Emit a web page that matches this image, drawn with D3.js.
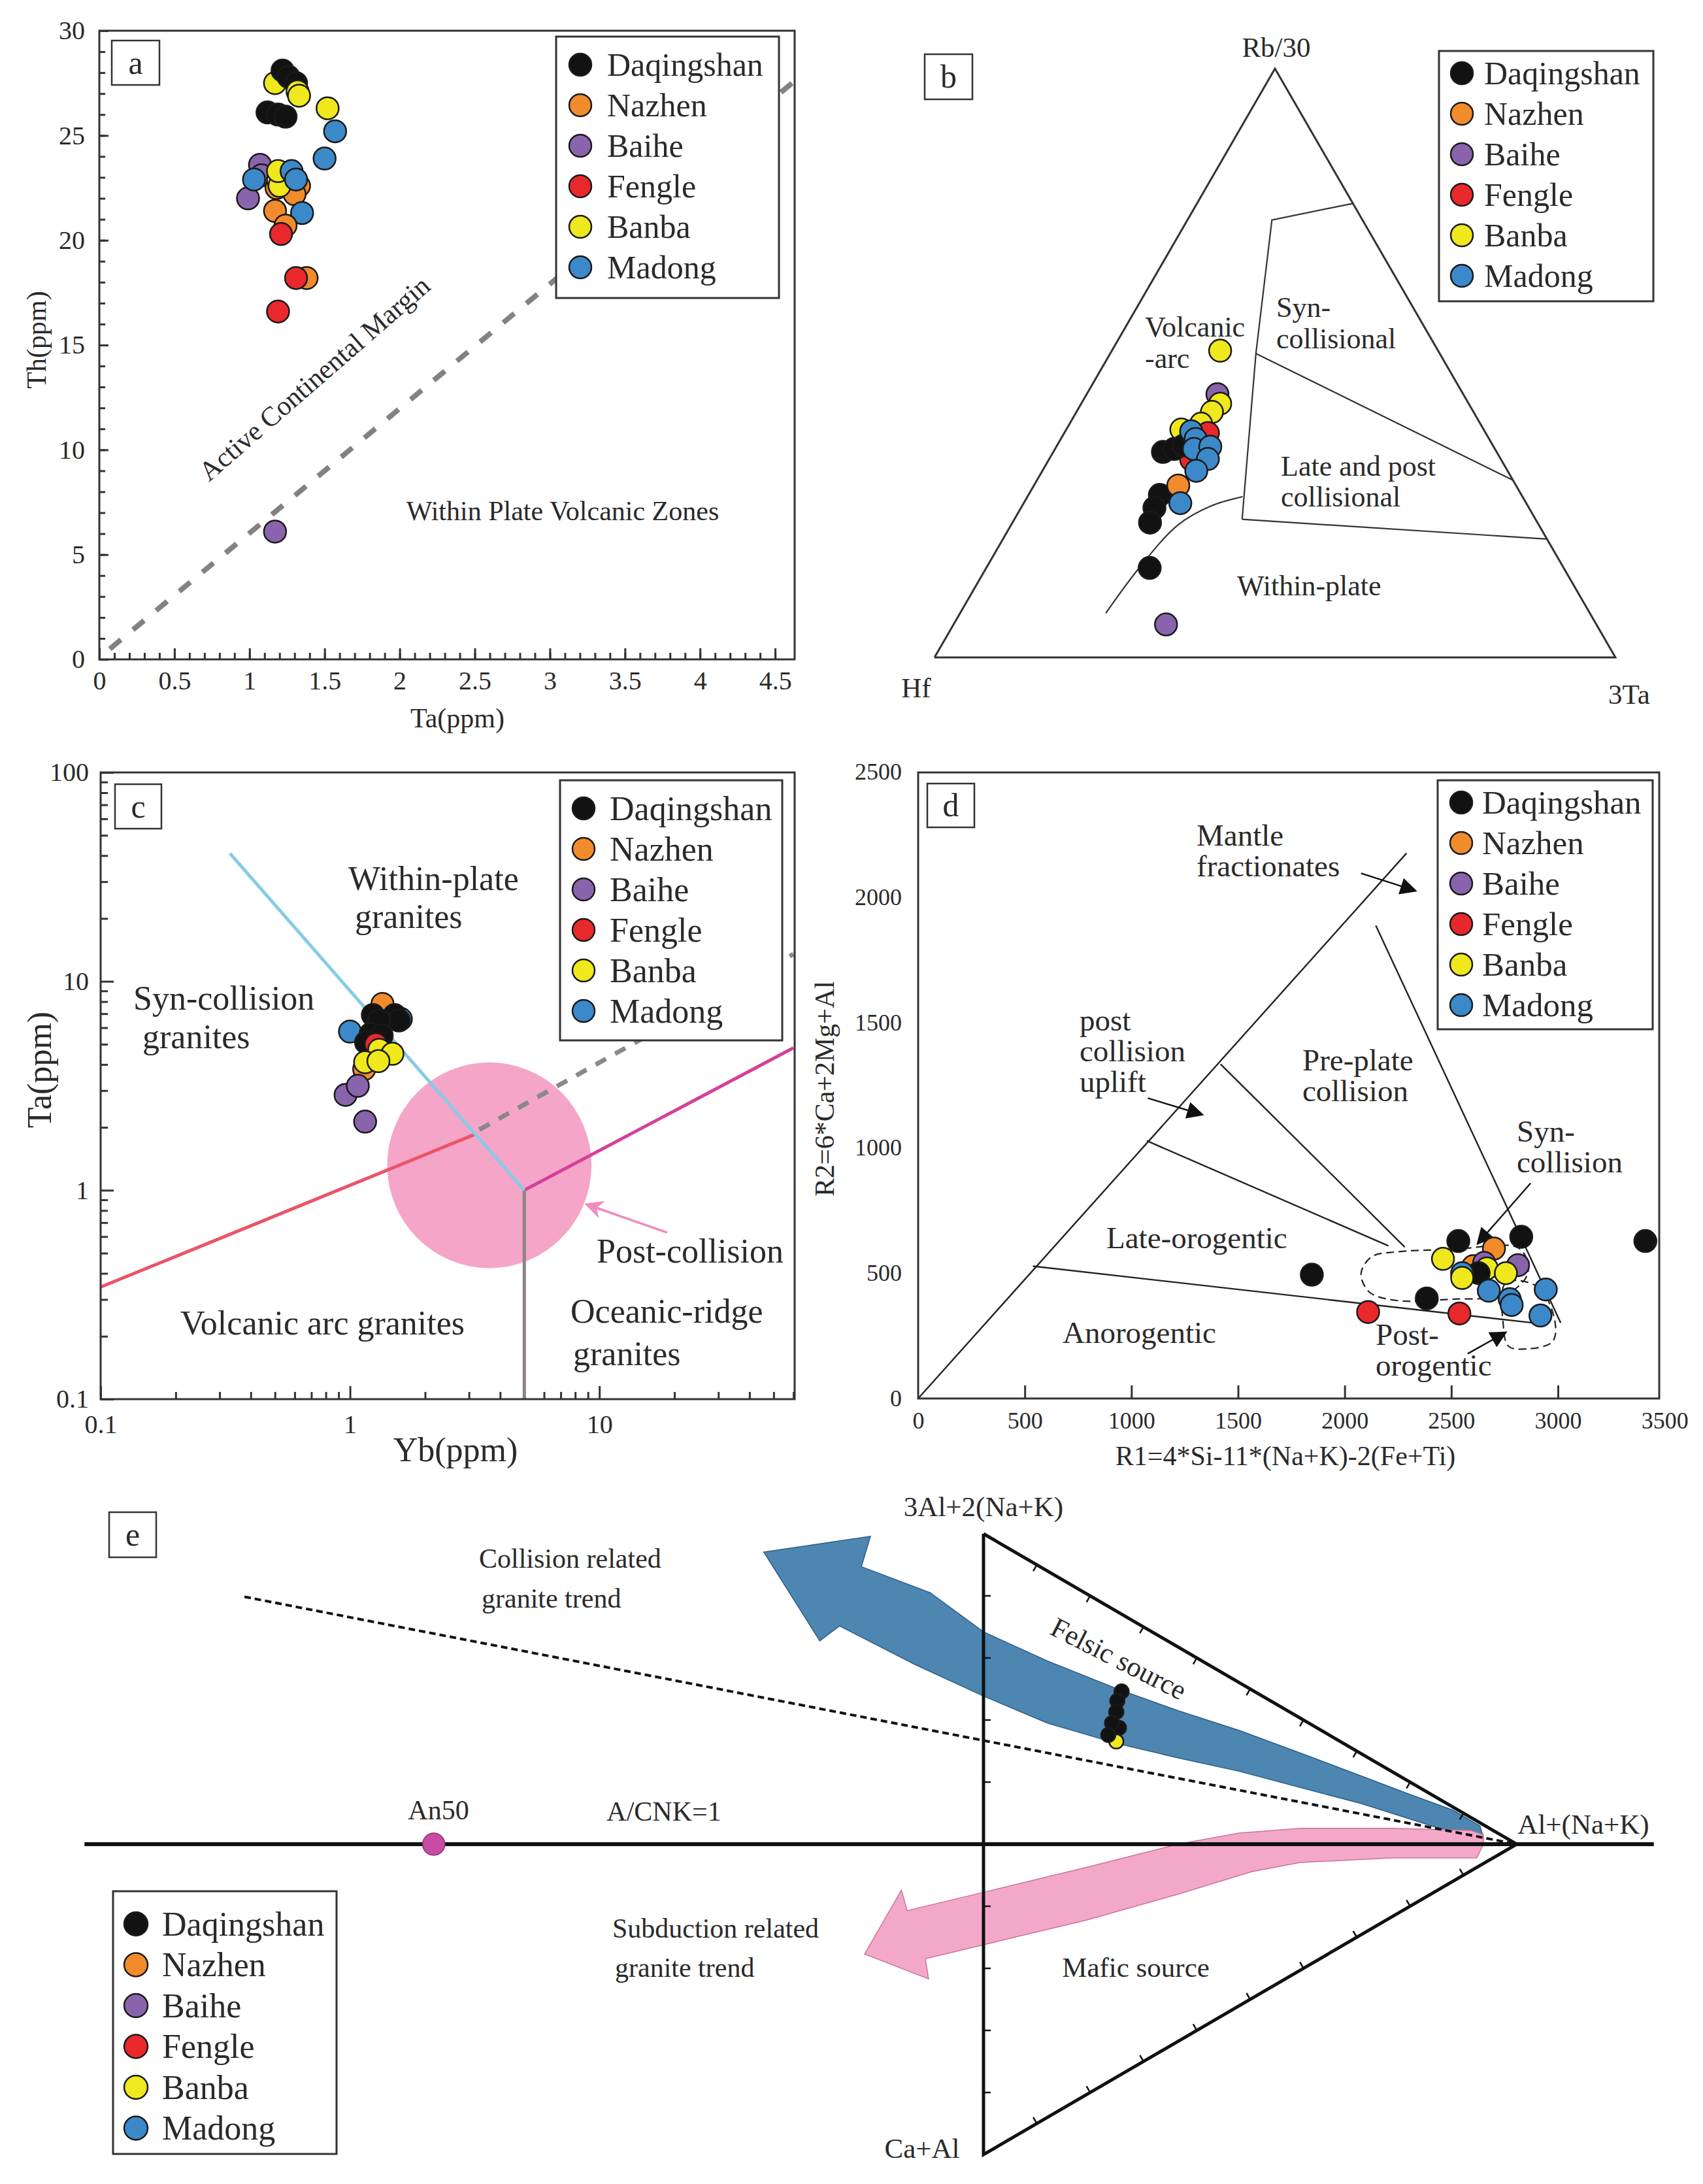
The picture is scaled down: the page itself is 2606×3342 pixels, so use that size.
<!DOCTYPE html>
<html>
<head>
<meta charset="utf-8">
<script src="https://cdn.jsdelivr.net/npm/d3@7"></script>
<style>
body { margin: 0; background: #fff; }
svg text { font-family: "Liberation Serif", "Times New Roman", serif; fill: #2a2a2a; }
</style>
</head>
<body>
<div id="chart"></div>
<script>
// sample groups and colours
var groups = ["Daqingshan", "Nazhen", "Baihe", "Fengle", "Banba", "Madong"];
var groupColors = ["#121212", "#f28b2c", "#8a63ad", "#e8282b", "#efe81c", "#3b89c9"];

// (a) Ta vs Th (ppm)
var taTh = [
  ["Banba", 1.17, 27.5], ["Daqingshan", 1.22, 28.1], ["Daqingshan", 1.26, 27.8], ["Daqingshan", 1.31, 27.5],
  ["Banba", 1.32, 27.1], ["Banba", 1.33, 26.9], ["Daqingshan", 1.12, 26.1], ["Daqingshan", 1.19, 26.0],
  ["Daqingshan", 1.24, 25.9], ["Banba", 1.52, 26.3], ["Madong", 1.57, 25.2], ["Madong", 1.50, 23.9],
  ["Baihe", 1.07, 23.6], ["Baihe", 1.08, 23.1], ["Baihe", 0.99, 22.0], ["Nazhen", 1.18, 22.5],
  ["Nazhen", 1.33, 22.6], ["Nazhen", 1.30, 22.2], ["Banba", 1.19, 22.9], ["Banba", 1.20, 22.6],
  ["Banba", 1.19, 23.3], ["Madong", 1.03, 22.9], ["Madong", 1.28, 23.3], ["Madong", 1.31, 22.9],
  ["Nazhen", 1.17, 21.4], ["Madong", 1.35, 21.3], ["Nazhen", 1.24, 20.7], ["Fengle", 1.21, 20.3],
  ["Nazhen", 1.38, 18.2], ["Fengle", 1.31, 18.2], ["Fengle", 1.19, 16.6], ["Baihe", 1.17, 6.1]
];
var acmLine = [[0.07, 0.5], [4.63, 27.6]];

// (b) Hf - Rb/30 - 3Ta, fractions [Hf, Rb/30, 3Ta]
var hfRbTa = [
  ["Baihe", 0.361, 0.447, 0.192], ["Baihe", 0.632, 0.056, 0.312], ["Banba", 0.320, 0.521, 0.159],
  ["Banba", 0.365, 0.431, 0.204], ["Banba", 0.384, 0.417, 0.199], ["Banba", 0.410, 0.397, 0.193],
  ["Banba", 0.444, 0.387, 0.169], ["Fengle", 0.408, 0.381, 0.211], ["Fengle", 0.455, 0.336, 0.209],
  ["Daqingshan", 0.490, 0.349, 0.161], ["Daqingshan", 0.471, 0.354, 0.175], ["Daqingshan", 0.454, 0.360, 0.186],
  ["Madong", 0.431, 0.384, 0.185], ["Madong", 0.431, 0.371, 0.198], ["Madong", 0.442, 0.354, 0.204],
  ["Madong", 0.416, 0.358, 0.226], ["Madong", 0.430, 0.337, 0.233], ["Madong", 0.457, 0.317, 0.226],
  ["Daqingshan", 0.531, 0.276, 0.193], ["Daqingshan", 0.550, 0.254, 0.196], ["Daqingshan", 0.569, 0.229, 0.202],
  ["Daqingshan", 0.608, 0.152, 0.240], ["Nazhen", 0.496, 0.292, 0.212], ["Madong", 0.508, 0.262, 0.230]
];
var synColTop = [[0, 0.771, 0.229], [0.133, 0.743, 0.124], [0.270, 0.516, 0.214], [0.431, 0.2345, 0.3345]];
var synColLower = [[0.270, 0.516, 0.214], [0, 0.301, 0.699]];
var lateColLower = [[0.431, 0.2345, 0.3345], [0, 0.201, 0.799]];
var withinPlateCurve = [[0.711, 0.075, 0.214], [0.623, 0.153, 0.225], [0.530, 0.225, 0.245], [0.466, 0.257, 0.277], [0.411, 0.273, 0.316]];

// (c) Yb vs Ta (ppm)
var ybTa = [
  ["Nazhen", 1.35, 7.8], ["Madong", 1.60, 6.6], ["Daqingshan", 1.235, 6.9], ["Daqingshan", 1.51, 6.9],
  ["Daqingshan", 1.57, 6.5], ["Daqingshan", 1.31, 6.5], ["Madong", 1.00, 5.75], ["Daqingshan", 1.21, 5.6],
  ["Daqingshan", 1.34, 5.5], ["Daqingshan", 1.16, 5.1], ["Fengle", 1.27, 5.0], ["Nazhen", 1.14, 3.8],
  ["Banba", 1.31, 4.7], ["Banba", 1.48, 4.5], ["Banba", 1.15, 4.1], ["Banba", 1.30, 4.15],
  ["Baihe", 0.96, 2.86], ["Baihe", 1.075, 3.16], ["Baihe", 1.15, 2.13]
];
var vagLine = [[0.1, 0.344], [3.2, 1.86]];
var wpgLine = [[0.33, 41], [5, 1]];
var colgDashed = [[3.3, 1.95], [60, 13.5]];
var orgLine = [[5, 1], [60, 4.8]];
var orgVertical = [[5, 1], [5, 0.1]];
var postColYb = [1.41, 9.3];
var postColTa = [0.424, 4.09];
var postColArrow = [[18.7, 0.627], [8.86, 0.857]];

// (d) R1 - R2
var r1r2 = [
  ["Daqingshan", 1846, 494], ["Fengle", 2110, 345], ["Daqingshan", 2385, 399], ["Fengle", 2538, 339],
  ["Daqingshan", 2533, 628], ["Banba", 2461, 557], ["Nazhen", 2700, 598], ["Nazhen", 2603, 528],
  ["Baihe", 2813, 532], ["Baihe", 2654, 541], ["Banba", 2667, 519], ["Daqingshan", 2628, 500],
  ["Banba", 2756, 500], ["Madong", 2551, 500], ["Banba", 2551, 481], ["Daqingshan", 2828, 645],
  ["Madong", 2676, 430], ["Madong", 2774, 396], ["Madong", 2783, 373], ["Madong", 2943, 435],
  ["Madong", 2918, 331], ["Daqingshan", 3410, 628]
];
var dDiagonal = [[0, 0], [2290, 2175]];
var dLower = [[538, 528], [2900, 300]];
var dMid = [[1072, 1028], [2205, 609]];
var dUpper = [[1418, 1334], [2282, 604]];
var dRight = [[2146, 1887], [3013, 302]];
var synColField = [[2244, 585], [2500, 594], [2820, 598], [2859, 500], [2756, 415], [2500, 396], [2244, 391], [2115, 425], [2077, 500], [2128, 566]];
var postOroField = [[2756, 462], [2910, 443], [2987, 302], [2974, 226], [2859, 198], [2769, 208], [2744, 292]];
var dArrows = [
  [[2077, 2095], [2333, 2025]],
  [[1077, 1198], [1333, 1132]],
  [[2872, 859], [2623, 617]],
  [[2577, 179], [2756, 264]]
];

// (e) schematic, u along A/CNK=1 line (0 = Ca+Al side, 1 = Al+(Na+K)), v up/down
var acnkLine = [[-1.686, 0], [1.257, 0]];
var collisionTrend = [[-1.386, 0.797], [1, 0]];
var an50 = [[-1.031, 0]];
var felsicArrow = [[-0.412, 0.941], [-0.212, 0.992], [-0.229, 0.894], [-0.1, 0.81], [0, 0.684], [0.12, 0.59],
  [0.251, 0.5], [0.365, 0.43], [0.479, 0.367], [0.6, 0.29], [0.708, 0.22], [0.80, 0.16], [0.88, 0.11],
  [0.931, 0.059], [0.9375, 0.021], [0.92, 0.015], [0.82, 0.07], [0.708, 0.131], [0.6, 0.18], [0.479, 0.235],
  [0.365, 0.278], [0.251, 0.324], [0.12, 0.39], [0, 0.477], [-0.13, 0.58], [-0.27, 0.703], [-0.307, 0.655]];
var maficArrow = [[-0.223, -0.354], [-0.154, -0.148], [-0.143, -0.214], [0, -0.155], [0.194, -0.074],
  [0.365, 0], [0.479, 0.036], [0.594, 0.051], [0.766, 0.051], [0.914, 0.044], [0.9375, 0.03], [0.9375, 0],
  [0.925, -0.044], [0.766, -0.044], [0.594, -0.059], [0.502, -0.089], [0.365, -0.161], [0.194, -0.244],
  [0, -0.324], [-0.109, -0.369], [-0.103, -0.434]];
var eSamples = [
  ["Daqingshan", 0.259, 0.492], ["Daqingshan", 0.251, 0.462], ["Daqingshan", 0.249, 0.426],
  ["Daqingshan", 0.254, 0.375], ["Daqingshan", 0.241, 0.39], ["Banba", 0.249, 0.331], ["Daqingshan", 0.234, 0.352]
];

var colorOf = d3.scaleOrdinal().domain(groups).range(groupColors);

var svg = d3.select("#chart").append("svg")
  .attr("width", 2606)
  .attr("height", 3342)
  .style("background", "#fff");

function frame(x0, y0, x1, y1) {
  svg.append("rect").attr("x", x0).attr("y", y0).attr("width", x1 - x0).attr("height", y1 - y0)
    .attr("fill", "none").attr("stroke", "#333").attr("stroke-width", 3);
}

function letterBox(x, y, w, h, t) {
  svg.append("rect").attr("x", x).attr("y", y).attr("width", w).attr("height", h)
    .attr("fill", "#fff").attr("stroke", "#333").attr("stroke-width", 2.5);
  svg.append("text").attr("x", x + w / 2).attr("y", y + h / 2).attr("dy", "0.33em")
    .attr("text-anchor", "middle").attr("font-size", 50).text(t);
}

function legend(x, y, w, h, rowY, step, cx, tx, fs, r) {
  svg.append("rect").attr("x", x).attr("y", y).attr("width", w).attr("height", h)
    .attr("fill", "#fff").attr("stroke", "#333").attr("stroke-width", 3);
  groups.forEach(function(gname, i) {
    svg.append("circle").attr("cx", cx).attr("cy", rowY + i * step).attr("r", r)
      .attr("fill", colorOf(gname)).attr("stroke", "#1a1a1a").attr("stroke-width", 2.5);
    svg.append("text").attr("x", tx).attr("y", rowY + i * step).attr("dy", "0.34em")
      .attr("font-size", fs).text(gname);
  });
}

function text(x, y, t, fs, anchor, rot) {
  var el = svg.append("text").attr("x", x).attr("y", y).attr("dy", "0.34em")
    .attr("font-size", fs).attr("text-anchor", anchor || "start").text(t);
  if (rot) el.attr("transform", "rotate(" + rot + "," + x + "," + y + ")");
  return el;
}

function styleAxis(g, fs) {
  g.select(".domain").remove();
  g.selectAll(".tick line").attr("stroke", "#333").attr("stroke-width", 3);
  g.selectAll(".tick text").attr("font-size", fs).attr("fill", "#2a2a2a")
    .attr("font-family", "'Liberation Serif','Times New Roman',serif");
}

function dots(data, px, py, r) {
  svg.append("g").selectAll("circle").data(data).join("circle")
    .attr("cx", px).attr("cy", py).attr("r", r)
    .attr("fill", function(d) { return colorOf(d[0]); })
    .attr("stroke", "#1a1a1a").attr("stroke-width", 2.5);
}

var defs = svg.append("defs");
function clip(id, x0, y0, x1, y1) {
  defs.append("clipPath").attr("id", id).append("rect")
    .attr("x", x0).attr("y", y0).attr("width", x1 - x0).attr("height", y1 - y0);
}
defs.append("marker").attr("id", "arrowBlack").attr("viewBox", "0 0 10 10")
  .attr("refX", 9).attr("refY", 5).attr("markerWidth", 9).attr("markerHeight", 7)
  .attr("markerUnits", "userSpaceOnUse").attr("orient", "auto")
  .attr("markerWidth", 34).attr("markerHeight", 26)
  .append("path").attr("d", "M0,0L10,5L0,10Z").attr("fill", "#111");
defs.append("marker").attr("id", "arrowPink").attr("viewBox", "0 0 10 10")
  .attr("refX", 9).attr("refY", 5).attr("markerUnits", "userSpaceOnUse").attr("orient", "auto")
  .attr("markerWidth", 34).attr("markerHeight", 28)
  .append("path").attr("d", "M0,0L10,5L0,10L3,5Z").attr("fill", "#f08bbd");

// ---------------- panel a ----------------
var xA = d3.scaleLinear().domain([0, 4.63]).range([152, 1216]);
var yA = d3.scaleLinear().domain([0, 30]).range([1009, 47]);
clip("clipA", 152, 47, 1216, 1009);

svg.append("g").attr("transform", "translate(0,1009)")
  .call(d3.axisBottom(xA).tickValues(d3.range(0, 46).map(function(i) { return i / 10; })).tickSize(-10).tickFormat(""))
  .call(function(g) { styleAxis(g, 40); });
svg.append("g").attr("transform", "translate(0,1009)")
  .call(d3.axisBottom(xA).tickValues(d3.range(0, 10).map(function(i) { return i / 2; })).tickSize(-17).tickPadding(18).tickFormat(d3.format("")))
  .call(function(g) { styleAxis(g, 40); });
svg.append("g").attr("transform", "translate(152,0)")
  .call(d3.axisLeft(yA).tickValues(d3.range(0, 31)).tickSize(-9).tickFormat(""))
  .call(function(g) { styleAxis(g, 40); });
svg.append("g").attr("transform", "translate(152,0)")
  .call(d3.axisLeft(yA).tickValues(d3.range(0, 31, 5)).tickSize(-14).tickPadding(22))
  .call(function(g) { styleAxis(g, 40); });

svg.append("path").datum(acmLine).attr("clip-path", "url(#clipA)")
  .attr("d", d3.line().x(function(d) { return xA(d[0]); }).y(function(d) { return yA(d[1]); }))
  .attr("stroke", "#878080").attr("stroke-width", 8).attr("stroke-dasharray", "22,24").attr("fill", "none");

text(700, 1099, "Ta(ppm)", 42, "middle");
text(56, 520, "Th(ppm)", 42, "middle", -90);
text(481, 579, "Active Continental Margin", 42, "middle", -41);
text(861, 782, "Within Plate Volcanic Zones", 42, "middle");

dots(taTh, function(d) { return xA(d[1]); }, function(d) { return yA(d[2]); }, 17);
frame(152, 47, 1216, 1009);
letterBox(171, 62, 73, 68, "a");
legend(851, 56, 341, 400, 99, 62, 888, 929, 50, 17);

// ---------------- panel b ----------------
var tx = d3.scaleLinear().domain([0, 1]).range([1430, 2472]);
var ty = d3.scaleLinear().domain([0, 1]).range([1006, 105]);
function ternX(d) { var s = d[0] + d[1] + d[2]; return tx((d[2] + d[1] / 2) / s); }
function ternY(d) { var s = d[0] + d[1] + d[2]; return ty(d[1] / s); }
var ternLine = d3.line().x(ternX).y(ternY);

svg.append("path").datum([[1, 0, 0], [0, 1, 0], [0, 0, 1], [1, 0, 0]])
  .attr("d", ternLine).attr("fill", "none").attr("stroke", "#333").attr("stroke-width", 3);
[synColTop, synColLower, lateColLower].forEach(function(l) {
  svg.append("path").datum(l).attr("d", ternLine).attr("fill", "none").attr("stroke", "#333").attr("stroke-width", 2.2);
});
svg.append("path").datum(withinPlateCurve).attr("d", ternLine.curve(d3.curveCatmullRom))
  .attr("fill", "none").attr("stroke", "#333").attr("stroke-width", 2.2);

text(1953, 72, "Rb/30", 43, "middle");
text(1402, 1052, "Hf", 43, "middle");
text(2493, 1062, "3Ta", 43, "middle");
text(1752, 500, "Volcanic", 44);
text(1752, 548, "-arc", 44);
text(1953, 470, "Syn-", 44);
text(1953, 518, "collisional", 44);
text(1960, 713, "Late and post", 44);
text(1960, 760, "collisional", 44);
text(1893, 896, "Within-plate", 44);

dots(hfRbTa, function(d) { return ternX(d.slice(1)); }, function(d) { return ternY(d.slice(1)); }, 17);
letterBox(1415, 83, 73, 69, "b");
legend(2202, 78, 328, 383, 112, 62, 2237, 2271, 50, 17);

// ---------------- panel c ----------------
var xC = d3.scaleLog().domain([0.1, 60.7]).range([154, 1216]);
var yC = d3.scaleLog().domain([0.1, 100]).range([2141, 1182]);
clip("clipC", 154, 1182, 1216, 2141);
var minorX = [], minorY = [];
[0.1, 1, 10].forEach(function(b) { d3.range(2, 10).forEach(function(m) { if (b * m <= 60.7) minorX.push(b * m); }); });
[0.1, 1, 10].forEach(function(b) { d3.range(2, 10).forEach(function(m) { minorY.push(b * m); }); });

svg.append("g").attr("transform", "translate(0,2141)")
  .call(d3.axisBottom(xC).tickValues(minorX).tickSize(-11).tickFormat(""))
  .call(function(g) { styleAxis(g, 40); });
svg.append("g").attr("transform", "translate(0,2141)")
  .call(d3.axisBottom(xC).tickValues([0.1, 1, 10]).tickSize(-20).tickPadding(24).tickFormat(d3.format("")))
  .call(function(g) { styleAxis(g, 40); });
svg.append("g").attr("transform", "translate(154,0)")
  .call(d3.axisLeft(yC).tickValues(minorY).tickSize(-11).tickFormat(""))
  .call(function(g) { styleAxis(g, 40); });
svg.append("g").attr("transform", "translate(154,0)")
  .call(d3.axisLeft(yC).tickValues([0.1, 1, 10, 100]).tickSize(-20).tickPadding(18).tickFormat(d3.format("")))
  .call(function(g) { styleAxis(g, 40); });

var gC = svg.append("g").attr("clip-path", "url(#clipC)");
var lineC = d3.line().x(function(d) { return xC(d[0]); }).y(function(d) { return yC(d[1]); });
gC.append("ellipse")
  .attr("cx", (xC(postColYb[0]) + xC(postColYb[1])) / 2)
  .attr("cy", (yC(postColTa[0]) + yC(postColTa[1])) / 2)
  .attr("rx", (xC(postColYb[1]) - xC(postColYb[0])) / 2)
  .attr("ry", (yC(postColTa[0]) - yC(postColTa[1])) / 2)
  .attr("fill", "#f5a5c8");
gC.append("path").datum(vagLine).attr("d", lineC).attr("stroke", "#ea5468").attr("stroke-width", 5).attr("fill", "none");
gC.append("path").datum(colgDashed).attr("d", lineC).attr("stroke", "#8a8888").attr("stroke-width", 7).attr("stroke-dasharray", "18,16").attr("fill", "none");
gC.append("path").datum(orgLine).attr("d", lineC).attr("stroke", "#d4409a").attr("stroke-width", 5).attr("fill", "none");
gC.append("path").datum(orgVertical).attr("d", lineC).attr("stroke", "#8e8484").attr("stroke-width", 5).attr("fill", "none");
gC.append("path").datum(wpgLine).attr("d", lineC).attr("stroke", "#86cbe6").attr("stroke-width", 5).attr("fill", "none");
svg.append("path").datum(postColArrow).attr("d", lineC).attr("stroke", "#f08bbd").attr("stroke-width", 3.5)
  .attr("fill", "none").attr("marker-end", "url(#arrowPink)");

text(697, 2218, "Yb(ppm)", 52, "middle");
text(60, 1637, "Ta(ppm)", 52, "middle", -90);
text(533, 1344, "Within-plate", 52);
text(543, 1402, "granites", 52);
text(204, 1527, "Syn-collision", 52);
text(218, 1586, "granites", 52);
text(913, 1914, "Post-collision", 52);
text(276, 2024, "Volcanic arc granites", 52);
text(873, 2006, "Oceanic-ridge", 52);
text(877, 2071, "granites", 52);

dots(ybTa, function(d) { return xC(d[1]); }, function(d) { return yC(d[2]); }, 17);
frame(154, 1182, 1216, 2141);
letterBox(176, 1200, 71, 68, "c");
legend(857, 1194, 340, 398, 1237, 62, 893, 933, 52, 17);

// ---------------- panel d ----------------
var xD = d3.scaleLinear().domain([0, 3475]).range([1405, 2539]);
var yD = d3.scaleLinear().domain([0, 2500]).range([2140, 1181]);
var lineD = d3.line().x(function(d) { return xD(d[0]); }).y(function(d) { return yD(d[1]); });

svg.append("g").attr("transform", "translate(0,2140)")
  .call(d3.axisBottom(xD).tickValues(d3.range(500, 3001, 500)).tickSize(-20).tickFormat(""))
  .call(function(g) { styleAxis(g, 36); });
svg.append("g").attr("transform", "translate(0,2140)")
  .call(d3.axisBottom(xD).tickValues(d3.range(0, 3501, 500)).tickSize(0).tickPadding(20).tickFormat(d3.format("")))
  .call(function(g) { styleAxis(g, 36); });
svg.append("g").attr("transform", "translate(1405,0)")
  .call(d3.axisLeft(yD).tickValues(d3.range(0, 2501, 500)).tickSize(0).tickPadding(25).tickFormat(d3.format("")))
  .call(function(g) { styleAxis(g, 36); });

[dDiagonal, dLower, dMid, dUpper, dRight].forEach(function(l) {
  svg.append("path").datum(l).attr("d", lineD).attr("stroke", "#222").attr("stroke-width", 2.4).attr("fill", "none");
});
[synColField, postOroField].forEach(function(f) {
  svg.append("path").datum(f).attr("d", d3.line().x(function(d) { return xD(d[0]); }).y(function(d) { return yD(d[1]); }).curve(d3.curveCatmullRomClosed))
    .attr("stroke", "#222").attr("stroke-width", 2.2).attr("stroke-dasharray", "12,7").attr("fill", "none");
});
dArrows.forEach(function(a) {
  svg.append("path").datum(a).attr("d", lineD).attr("stroke", "#111").attr("stroke-width", 2.4)
    .attr("fill", "none").attr("marker-end", "url(#arrowBlack)");
});

text(1967, 2228, "R1=4*Si-11*(Na+K)-2(Fe+Ti)", 42, "middle");
text(1262, 1666, "R2=6*Ca+2Mg+Al", 42, "middle", -90);
text(1831, 1278, "Mantle", 47);
text(1831, 1325, "fractionates", 47);
text(1652, 1561, "post", 47);
text(1652, 1608, "collision", 47);
text(1652, 1655, "uplift", 47);
text(1993, 1622, "Pre-plate", 47);
text(1993, 1669, "collision", 47);
text(2321, 1731, "Syn-", 47);
text(2321, 1778, "collision", 47);
text(1693, 1894, "Late-orogentic", 47);
text(1626, 2039, "Anorogentic", 47);
text(2105, 2042, "Post-", 47);
text(2105, 2089, "orogentic", 47);

dots(r1r2, function(d) { return xD(d[1]); }, function(d) { return yD(d[2]); }, 17);
frame(1405, 1182, 2539, 2140);
letterBox(1419, 1199, 72, 67, "d");
legend(2200, 1194, 329, 381, 1228, 62, 2236, 2268, 51, 17);

// ---------------- panel e ----------------
var xE = d3.scaleLinear().domain([0, 1]).range([1505, 2321]);
var yE = d3.scaleLinear().domain([0, 1]).range([2822, 2347]);
var lineE = d3.line().x(function(d) { return xE(d[0]); }).y(function(d) { return yE(d[1]); });

svg.append("path").datum(felsicArrow).attr("d", lineE.curve(d3.curveLinearClosed))
  .attr("fill", "#4d86b1").attr("stroke", "#2f5f86").attr("stroke-width", 1.5);
svg.append("path").datum(maficArrow).attr("d", lineE.curve(d3.curveLinearClosed))
  .attr("fill", "#f4a8c9").attr("stroke", "#c9749b").attr("stroke-width", 1.5);
lineE.curve(d3.curveLinear);

svg.append("path").datum(collisionTrend).attr("d", lineE).attr("stroke", "#111").attr("stroke-width", 4)
  .attr("stroke-dasharray", "10,6").attr("fill", "none");
svg.append("path").datum(acnkLine).attr("d", lineE).attr("stroke", "#111").attr("stroke-width", 6).attr("fill", "none");
svg.append("path").datum([[0, 1], [1, 0], [0, -1], [0, 1]]).attr("d", lineE)
  .attr("stroke", "#111").attr("stroke-width", 5).attr("fill", "none").attr("stroke-linejoin", "miter");

// small ticks along the triangle sides
var edges = [[[0, 1], [1, 0], 1], [[0, -1], [1, 0], -1], [[0, 1], [0, -1], 1]];
edges.forEach(function(e) {
  var p0 = [xE(e[0][0]), yE(e[0][1])], p1 = [xE(e[1][0]), yE(e[1][1])];
  var dx = p1[0] - p0[0], dy = p1[1] - p0[1], len = Math.sqrt(dx * dx + dy * dy);
  var nx = -dy / len * e[2], ny = dx / len * e[2];
  if (e[0][0] === 0 && e[1][0] === 0) { nx = 1; ny = 0; }
  else if (e[2] === 1) { nx = -dy / len; ny = dx / len; if (ny < 0) { nx = -nx; ny = -ny; } }
  else { nx = -dy / len; ny = dx / len; if (ny > 0) { nx = -nx; ny = -ny; } }
  d3.range(1, 10).forEach(function(i) {
    var px = p0[0] + dx * i / 10, py = p0[1] + dy * i / 10;
    svg.append("line").attr("x1", px).attr("y1", py).attr("x2", px + nx * 11).attr("y2", py + ny * 11)
      .attr("stroke", "#111").attr("stroke-width", 2.5);
  });
});

svg.append("g").selectAll("circle").data(an50).join("circle")
  .attr("cx", function(d) { return xE(d[0]); }).attr("cy", function(d) { return yE(d[1]); })
  .attr("r", 17).attr("fill", "#c94ca4").attr("stroke", "#8a2f70").attr("stroke-width", 1.5);
dots(eSamples, function(d) { return xE(d[1]); }, function(d) { return yE(d[2]); }, 11);

text(1505, 2305, "3Al+2(Na+K)", 43, "middle");
text(2423, 2791, "Al+(Na+K)", 43, "middle");
text(1411, 3287, "Ca+Al", 43, "middle");
text(671, 2770, "An50", 42, "middle");
text(1016, 2772, "A/CNK=1", 42, "middle");
text(733, 2385, "Collision related", 42);
text(737, 2446, "granite trend", 42);
text(937, 2951, "Subduction related", 42);
text(941, 3011, "granite trend", 42);
text(1712, 2538, "Felsic source", 43, "middle", 27);
text(1738, 3010, "Mafic source", 43, "middle");

letterBox(167, 2314, 72, 69, "e");
legend(173, 2894, 342, 402, 2944, 62.5, 208, 248, 52, 18);
</script>
</body>
</html>
